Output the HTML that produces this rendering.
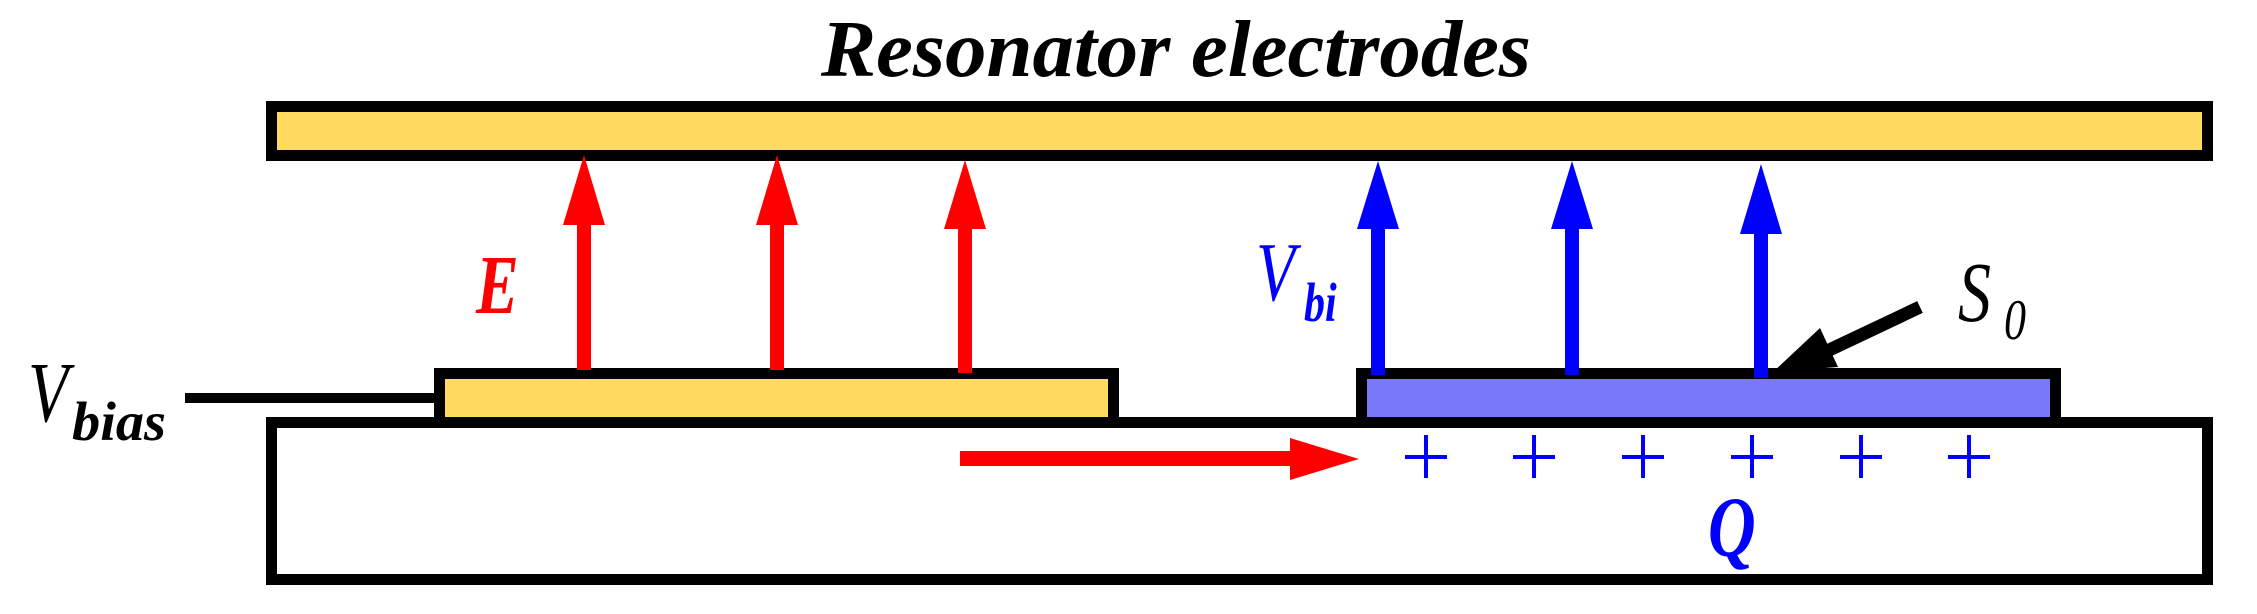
<!DOCTYPE html>
<html><head><meta charset="utf-8"><style>html,body{margin:0;padding:0;background:#fff}svg{display:block}</style></head>
<body>
<svg width="2257" height="614" viewBox="0 0 2257 614" xmlns="http://www.w3.org/2000/svg">
<rect width="2257" height="614" fill="#fff"/>
<g transform="translate(821,76) scale(1,1.3)">
<text x="0" y="0" font-family="Liberation Serif, serif" font-weight="bold" font-style="italic" font-size="62" fill="#000" textLength="710" lengthAdjust="spacingAndGlyphs">Resonator electrodes</text>
</g>
<rect x="271.5" y="106.5" width="1936" height="49" fill="#ffda5f" stroke="#000" stroke-width="11"/>
<rect x="271.5" y="422.5" width="1936" height="157" fill="#fff" stroke="#000" stroke-width="11"/>
<rect x="439.5" y="373.5" width="674" height="49" fill="#ffda5f" stroke="#000" stroke-width="11"/>
<rect x="1361.5" y="373.5" width="694" height="49" fill="#7878f8" stroke="#000" stroke-width="11"/>
<rect x="185" y="393" width="252" height="10" fill="#000"/>
<g fill="#f00">
<rect x="577" y="222" width="14" height="148"/><polygon points="584,155 563,225 605,225"/>
<rect x="770" y="222" width="14" height="148"/><polygon points="777,155 756,225 798,225"/>
<rect x="958" y="225" width="14" height="148"/><polygon points="965,160 944,229 986,229"/>
<rect x="960" y="451" width="332" height="15"/><polygon points="1290,438 1359,459 1290,480"/>
</g>
<g fill="#00f">
<rect x="1371" y="225" width="14" height="150"/><polygon points="1378,161 1357,229 1399,229"/>
<rect x="1565" y="225" width="14" height="150"/><polygon points="1572,161 1551,229 1593,229"/>
<rect x="1754" y="230" width="14" height="148"/><polygon points="1761,164 1740,234 1782,234"/>
</g>
<g stroke="#00f" stroke-width="4">
<path d="M1426 435V478M1405 457H1447"/>
<path d="M1534 435V478M1513 457H1555"/>
<path d="M1643 435V478M1622 457H1664"/>
<path d="M1752 435V478M1731 457H1773"/>
<path d="M1861 435V478M1840 457H1882"/>
<path d="M1969 435V478M1948 457H1990"/>
</g>
<line x1="1920" y1="307" x2="1825" y2="352" stroke="#000" stroke-width="13"/>
<polygon points="1773,372 1820,328 1838,367" fill="#000"/>
<g transform="translate(476,313) scale(1,1.3)"><text font-family="Liberation Serif, serif" font-weight="bold" font-style="italic" font-size="64" fill="#f00">E</text></g>
<g transform="translate(1256,300) scale(1,1.3)"><text font-family="Liberation Serif, serif" font-style="italic" font-size="64" fill="#00f">V</text></g>
<g transform="translate(1304,321) scale(1,1.3)"><text font-family="Liberation Serif, serif" font-style="italic" font-weight="bold" font-size="42" fill="#00f">bi</text></g>
<g transform="translate(1958,321) scale(1,1.3)"><text font-family="Liberation Serif, serif" font-style="italic" font-size="66" fill="#000">S</text></g>
<g transform="translate(2004,339) scale(1,1.3)"><text font-family="Liberation Serif, serif" font-style="italic" font-size="44" fill="#000">0</text></g>
<g transform="translate(1708,556) scale(1,1.3)"><text font-family="Liberation Serif, serif" font-style="italic" font-weight="bold" font-size="66" fill="#00f">Q</text></g>
<g transform="translate(28,421) scale(1,1.3)"><text font-family="Liberation Serif, serif" font-style="italic" font-size="66" fill="#000">V</text></g>
<g transform="translate(72,440) scale(1,1.3)"><text font-family="Liberation Serif, serif" font-style="italic" font-weight="bold" font-size="42" fill="#000" textLength="94" lengthAdjust="spacingAndGlyphs">bias</text></g>
</svg>
</body></html>
